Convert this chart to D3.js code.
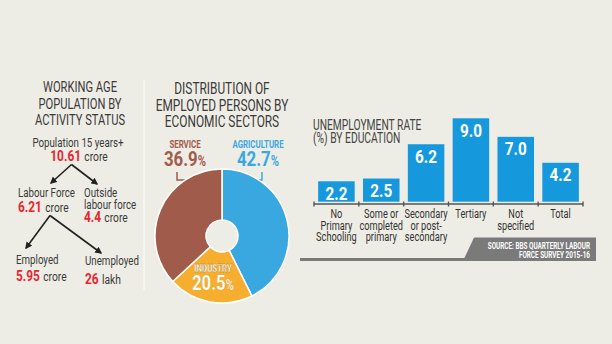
<!DOCTYPE html>
<html>
<head>
<meta charset="utf-8">
<script src="https://cdn.jsdelivr.net/npm/d3@7"></script>
<style>
  html, body { margin: 0; padding: 0; background: #eeede5; }
  svg { display: block; }
  text { font-family: Roboto, "Noto Sans", sans-serif; }
</style>
</head>
<body>
<svg id="chart" width="612" height="344"></svg>
<script>
// ---------- DATA ----------
const treeTitle = ["WORKING AGE", "POPULATION BY", "ACTIVITY STATUS"];
const treeLabels = ["Population 15 years+", "Labour Force", "Outside labour force", "Employed", "Unemployed"];
const treeValues = ["10.61", "6.21", "4.4", "5.95", "26"];
const treeUnits = ["crore", "crore", "crore", "crore", "lakh"];

const pieTitle = ["DISTRIBUTION OF", "EMPLOYED PERSONS BY", "ECONOMIC SECTORS"];
const sectors = ["AGRICULTURE", "INDUSTRY", "SERVICE"];
const sectorShares = [42.7, 20.5, 36.9];

const barTitle = ["UNEMPLOYMENT RATE", "(%) BY EDUCATION"];
const eduCategories = ["No Primary Schooling", "Some or completed primary", "Secondary or post-secondary", "Tertiary", "Not specified", "Total"];
const eduCategoryLines = [["No", "Primary", "Schooling"], ["Some or", "completed", "primary"], ["Secondary", "or post-", "secondary"], ["Tertiary"], ["Not", "specified"], ["Total"]];
const eduRates = [2.2, 2.5, 6.2, 9.0, 7.0, 4.2];
const sourceLines = ["SOURCE: BBS QUARTERLY LABOUR", "FORCE SURVEY 2015-16"];

// ---------- STYLE ----------
const RED = "#e8242f", DARK = "#3a3a3a", BLUE = "#3aa8e0", ORANGE = "#f6ae2e", BROWN = "#a15b4b", GRAY = "#7a7a7a";
const SX = 0.8; // condensed look

const svg = d3.select("#chart");

// condensed text helper
function txt(g, x, y, str, o) {
  o = o || {};
  const t = g.append("text")
    .attr("transform", `translate(${x},${y}) scale(${o.sx || SX},1)`)
    .attr("text-anchor", o.anchor || "start")
    .attr("font-size", o.size || 12.5)
    .attr("font-weight", o.weight || "normal")
    .attr("fill", o.fill || DARK);
  if (str !== null) t.text(str);
  return t;
}

// separator
svg.append("line").attr("x1", 144).attr("x2", 144).attr("y1", 80).attr("y2", 290)
  .attr("stroke", "#fbfbf7").attr("stroke-width", 1.2);

// ---------- LEFT PANEL: tree ----------
const left = svg.append("g");
treeTitle.forEach((d, i) => txt(left, 80, 92 + i * 16.5, d, { anchor: "middle", size: 15.5, sx: 0.72 }));

function valueLine(g, x, y, val, unit, anchor) {
  const t = txt(g, x, y, null, { anchor: anchor || "start", sx: 0.82 });
  t.append("tspan").attr("fill", RED).attr("font-weight", "bold").attr("font-size", 14.5).text(val);
  t.append("tspan").attr("fill", DARK).attr("font-size", 12.5).attr("dx", 4).text(unit);
}
function label(g, x, y, lines, anchor) {
  lines.forEach((l, i) => txt(g, x, y + i * 12.5, l, { anchor: anchor || "start", size: 12.5, sx: 0.78 }));
}

label(left, 78, 146.5, [treeLabels[0]], "middle");
valueLine(left, 79, 160.5, treeValues[0], treeUnits[0], "middle");

label(left, 18, 196.5, [treeLabels[1]]);
valueLine(left, 18, 211.5, treeValues[1], treeUnits[1]);

label(left, 84, 196.5, ["Outside", "labour force"]);
valueLine(left, 84, 222, treeValues[2], treeUnits[2]);

label(left, 16, 263.5, [treeLabels[3]]);
valueLine(left, 16, 280.5, treeValues[3], treeUnits[3]);

label(left, 85, 265, [treeLabels[4]]);
valueLine(left, 85, 283.5, treeValues[4], treeUnits[4]);

// arrows
const defs = svg.append("defs");
defs.append("marker").attr("id", "arr").attr("viewBox", "0 0 10 10").attr("refX", 8).attr("refY", 5)
  .attr("markerWidth", 4.4).attr("markerHeight", 4.4).attr("orient", "auto")
  .append("path").attr("d", "M0,0 L10,5 L0,10 Z").attr("fill", "#222");
const arrows = [[71.5, 164.5, 51, 183], [71.5, 164.5, 97, 184], [50, 215.5, 26, 248], [50, 215.5, 101, 253]];
left.selectAll("line.arr").data(arrows).join("line")
  .attr("x1", d => d[0]).attr("y1", d => d[1]).attr("x2", d => d[2]).attr("y2", d => d[3])
  .attr("stroke", "#222").attr("stroke-width", 1.6).attr("marker-end", "url(#arr)");

// ---------- MIDDLE PANEL: pie ----------
const mid = svg.append("g");
pieTitle.forEach((d, i) => txt(mid, 222, 94 + i * 16.5, d, { anchor: "middle", size: 16.5, sx: 0.72 }));

const cx = 222, cy = 236;
const pie = d3.pie().sort(null).value(d => d)(sectorShares);
const arc = d3.arc().innerRadius(16).outerRadius(67);
const pieColors = [BLUE, ORANGE, BROWN];

// brackets (drawn under pie)
mid.append("path").attr("d", `M177,172 V180 H205`).attr("fill", "none").attr("stroke", BROWN).attr("stroke-width", 1.5);
mid.append("path").attr("d", `M262,172 V180 H240`).attr("fill", "none").attr("stroke", BLUE).attr("stroke-width", 1.5);

mid.append("g").attr("transform", `translate(${cx},${cy})`)
  .selectAll("path").data(pie).join("path")
  .attr("d", arc).attr("fill", (d, i) => pieColors[i])
  .attr("stroke", "#ffffff").attr("stroke-width", 1.5);

function pctLabel(g, x, y, name, val, color, white) {
  const a = txt(g, x, y, name, { anchor: "middle", size: 10.5, weight: "bold", fill: color, sx: 0.75 });
  const t = txt(g, x, y + 18.5, null, { anchor: "middle", weight: "bold", fill: color, sx: 0.8 });
  t.append("tspan").attr("font-size", 21).text(val.toFixed(1));
  t.append("tspan").attr("font-size", 14).text("%");
  if (white) { a.attr("stroke", "#8a6a3a").attr("stroke-width", 0.25); t.attr("stroke", "#c08a30").attr("stroke-width", 0.2); }
}
pctLabel(mid, 185, 147.5, sectors[2], sectorShares[2], BROWN);
pctLabel(mid, 258, 147.5, sectors[0], sectorShares[0], BLUE);
pctLabel(mid, 213, 271.5, sectors[1], sectorShares[1], "#ffffff", true);

// ---------- RIGHT PANEL: bars ----------
const right = svg.append("g");
barTitle.forEach((d, i) => txt(right, 313, 130 + i * 13, d, { size: 14.5, fill: "#444", sx: 0.71 }));

const x = d3.scaleBand().domain(eduCategories).range([314, 583]).paddingInner(0.185).paddingOuter(0.0925);
const y = d3.scaleLinear().domain([0, 9]).range([201.7, 118.3]);

right.selectAll("rect.bar").data(eduRates).join("rect")
  .attr("x", (d, i) => x(eduCategories[i])).attr("width", x.bandwidth())
  .attr("y", d => y(d)).attr("height", d => y(0) - y(d)).attr("fill", "#1598dc");

eduRates.forEach((d, i) => txt(right, x(eduCategories[i]) + x.bandwidth() / 2, y(d) + 18.5, d.toFixed(1),
  { anchor: "middle", size: 18, weight: "bold", fill: "#fff", sx: 0.85 }));

// axis
const axisY = 204;
const axisG = right.append("g").attr("transform", `translate(0,${axisY})`)
  .call(d3.axisBottom(x).tickSize(0).tickFormat(""));
axisG.select(".domain").attr("d", "M314,0H583").attr("stroke", "#555").attr("stroke-width", 1.4);
const bounds = d3.range(7).map(i => 314 + i * x.step());
right.selectAll("line.tk").data(bounds).join("line")
  .attr("x1", d => d).attr("x2", d => d).attr("y1", axisY - 2.5).attr("y2", axisY + 2.5)
  .attr("stroke", "#555").attr("stroke-width", 1.4);

eduCategoryLines.forEach((lines, i) => {
  lines.forEach((l, j) => txt(right, x(eduCategories[i]) + x.bandwidth() / 2, 218 + j * 11.5, l,
    { anchor: "middle", size: 12.8, fill: "#333", sx: 0.72 }));
});

// source box
right.append("rect").attr("x", 300).attr("y", 258).attr("width", 170).attr("height", 3).attr("fill", GRAY);
right.append("path").attr("d", "M474,237.5 H596 V261 H463 Z").attr("fill", GRAY);
sourceLines.forEach((l, i) => txt(right, 590, 248.5 + i * 9.5, l,
  { anchor: "end", size: 8.5, weight: "bold", fill: "#fff", sx: 0.75 }));
</script>
</body>
</html>
